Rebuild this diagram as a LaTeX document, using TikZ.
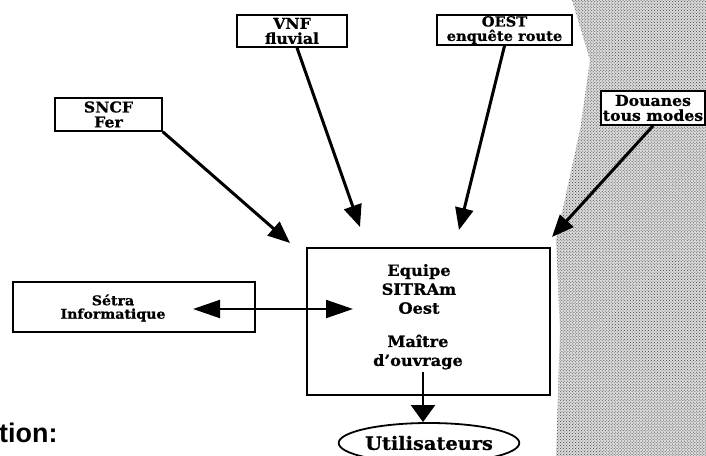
\documentclass[tikz,border=0pt]{standalone}
\usepackage{fontspec}
\setmainfont{DejaVu Serif}[FakeStretch=1.05, BoldFeatures={FakeBold=0.8}]
\newfontfamily\headfont{Liberation Sans}
\usetikzlibrary{shapes,arrows.meta,patterns}

\begin{document}
\begin{tikzpicture}[x=1bp, y=-1bp]
\tikzstyle{vertexr}=[rectangle, draw=black, line width=1.6bp, fill=white, inner sep=1bp, align=center, font=\bfseries\fontsize{15}{15}\selectfont]
\tikzstyle{vertexe}=[ellipse, draw=black, line width=1.8bp, fill=white, inner sep=0pt, font=\bfseries\fontsize{18.5}{19}\selectfont]
\tikzstyle{textr}=[align=center, inner sep=0pt, font=\bfseries\fontsize{15.5}{19}\selectfont]
\tikzstyle{drawstyle}=[line width=3bp, -{Triangle[length=22bp, width=18bp]}]
\tikzstyle{drawthin}=[line width=2bp]

\useasboundingbox (0,0) rectangle (706,456);
\fill[black!14] (572,0) -- (706,0) -- (706,456) -- (556,456) -- (560,330) -- (556,240) -- (580,130) -- (590,60) -- cycle;
\fill[pattern=crosshatch dots, pattern color=black!75] (572,0) -- (706,0) -- (706,456) -- (556,456) -- (560,330) -- (556,240) -- (580,130) -- (590,60) -- cycle;

\node[vertexr, minimum width=107bp, minimum height=33bp] (SNCF) at (108.5,114.5) {SNCF\\Fer};
\node[vertexr, minimum width=110bp, minimum height=32bp] (VNF) at (292,31) {VNF\\fluvial};
\node[vertexr, minimum width=135bp, minimum height=30bp, font=\bfseries\fontsize{14}{14.5}\selectfont] (OEST) at (504.5,30) {OEST\\enquête route};
\node[vertexr, minimum width=104bp, minimum height=34bp] (Douanes) at (653,108) {Douanes\\tous modes};
\node[vertexr, minimum width=242bp, minimum height=50bp] (Setra) at (134,307) {};
\node[textr, font=\bfseries\fontsize{13.5}{13.5}\selectfont] (SetraText) at (113,308) {Sétra\\Informatique};
\node[vertexr, minimum width=243bp, minimum height=147bp] (Main) at (428.5,321.5) {};
\node[textr] (Equipe) at (419,289) {Equipe\\SITRAm\\Oest};
\node[textr] (Maitre) at (418,352) {Maître\\d'ouvrage};
\node[vertexe, minimum width=171bp, minimum height=40bp] (Users) at (429,443) {Utilisateurs};
\node[anchor=west, inner sep=0pt, font=\headfont\bfseries\fontsize{27}{27}\selectfont] (Tion) at (-1,433) {tion:};

\coordinate (TipSNCF) at (290,243);
\coordinate (TipVNF) at (360,227);
\coordinate (TipOEST) at (459,230);
\coordinate (TipDouanes) at (552,237);
\coordinate (TipSetra) at (193,309);
\coordinate (TipMain) at (353,309);
\coordinate (MainOut) at (423,372);

\draw[drawstyle] (SNCF.south east) -- (TipSNCF);
\draw[drawstyle] ([xshift=5bp]VNF.south) -- (TipVNF);
\draw[drawstyle] (OEST.south) -- (TipOEST);
\draw[drawstyle] (Douanes.south) -- (TipDouanes);
\draw[drawthin, {Triangle[length=27bp, width=18bp]}-{Triangle[length=27bp, width=18bp]}] (TipSetra) -- (TipMain);
\draw[drawthin, -{Triangle[length=17bp, width=24bp]}] (MainOut) -- (MainOut |- Users.north);
\end{tikzpicture}
\end{document}
